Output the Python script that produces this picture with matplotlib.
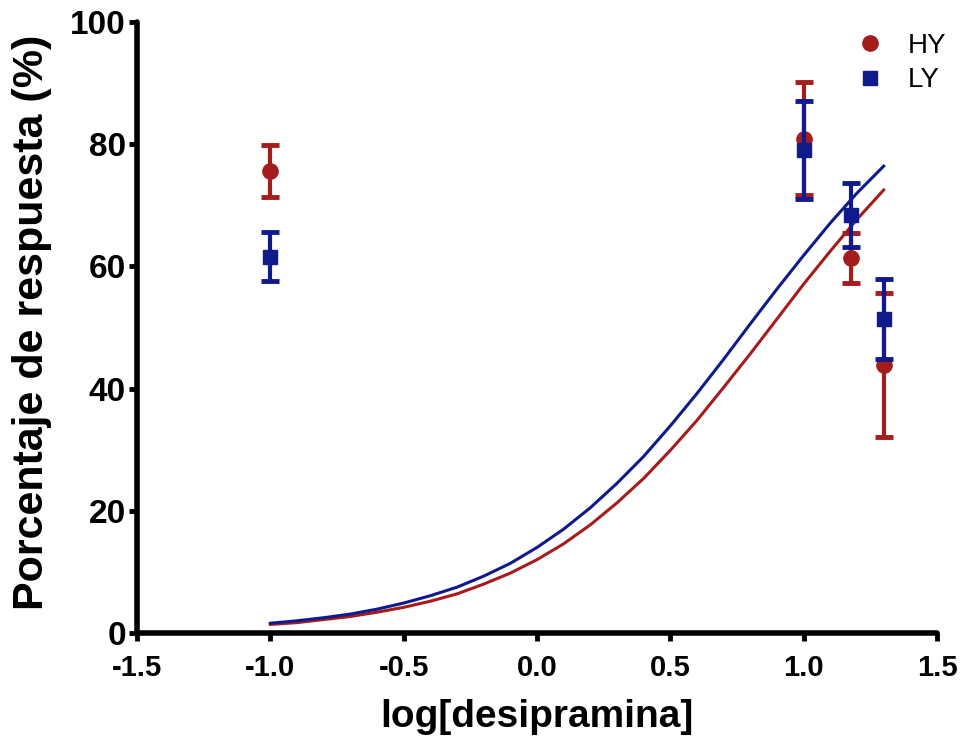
import matplotlib.pyplot as plt

# dose points (log concentration)
dose = [-1.0, 1.0, 1.176, 1.301]

hy_mean = [75.6, 80.9, 61.4, 43.9]
hy_err = [4.2, 9.2, 4.1, 11.8]
ly_mean = [61.6, 79.0, 68.4, 51.4]
ly_err = [4.0, 8.0, 5.3, 6.6]

# fitted curves
curve_x = [-1.0, -0.9, -0.8, -0.7, -0.6, -0.5, -0.4, -0.3, -0.2, -0.1, 0.0, 0.1,
           0.2, 0.3, 0.4, 0.5, 0.6, 0.7, 0.8, 0.9, 1.0, 1.1, 1.2, 1.3]
hy_curve = [1.4, 1.7, 2.2, 2.7, 3.4, 4.2, 5.2, 6.4, 8.0, 9.8, 12.0, 14.6,
            17.7, 21.3, 25.3, 29.9, 34.8, 40.2, 45.7, 51.4, 57.1, 62.5, 67.7, 72.5]
ly_curve = [1.6, 2.0, 2.5, 3.1, 3.9, 4.9, 6.1, 7.5, 9.3, 11.4, 14.0, 17.0,
            20.5, 24.5, 28.9, 33.9, 39.2, 44.8, 50.6, 56.3, 61.8, 67.1, 72.0, 76.4]

red = '#A51C1C'
blue = '#0F1A8C'

plt.rcParams['font.family'] = ['Liberation Sans', 'DejaVu Sans']

fig = plt.figure(figsize=(9.62, 7.42), dpi=100)
ax = fig.add_axes([0.1424, 0.1469, 0.8316, 0.8235])

ax.plot(curve_x, hy_curve, color=red, lw=2.2, zorder=2)
ax.plot(curve_x, ly_curve, color=blue, lw=2.2, zorder=2)

ax.errorbar(dose, hy_mean, yerr=hy_err, fmt='o', color=red, ms=11,
            elinewidth=3, capsize=6.5, capthick=3.5, label='HY', zorder=3)
ax.errorbar(dose, ly_mean, yerr=ly_err, fmt='s', color=blue, ms=9.5,
            elinewidth=3, capsize=6.5, capthick=3.5, label='LY', zorder=4)

ax.set_xlim(-1.5, 1.5)
ax.set_ylim(0, 100)
ax.set_xticks([-1.5, -1.0, -0.5, 0.0, 0.5, 1.0, 1.5])
ax.set_xticklabels(['-1.5', '-1.0', '-0.5', '0.0', '0.5', '1.0', '1.5'])
ax.set_yticks([0, 20, 40, 60, 80, 100])

for s in ['top', 'right']:
    ax.spines[s].set_visible(False)
for s in ['left', 'bottom']:
    ax.spines[s].set_linewidth(4)
    ax.spines[s].set_capstyle('round')

ax.tick_params(width=3.5, length=6, direction='out')
ax.tick_params(axis='x', labelsize=21, pad=9)
ax.tick_params(axis='y', labelsize=24, pad=2)
for lab in ax.get_xticklabels() + ax.get_yticklabels():
    lab.set_fontweight('bold')

ax.set_xlabel('log[desipramina]', fontsize=28, fontweight='bold', labelpad=12)
ax.set_ylabel('Porcentaje de respuesta (%)', fontsize=31, fontweight='bold')
ax.yaxis.set_label_coords(-0.106, 0.509)

handles, labels = ax.get_legend_handles_labels()
handles = [h[0] for h in handles]
ax.legend(handles, labels, loc='upper right', frameon=False, fontsize=20,
          handletextpad=0.85, borderaxespad=0.0, labelspacing=0.3, handlelength=1.0,
          bbox_to_anchor=(1.025, 1.0))

fig.savefig('out.png', dpi=100)
